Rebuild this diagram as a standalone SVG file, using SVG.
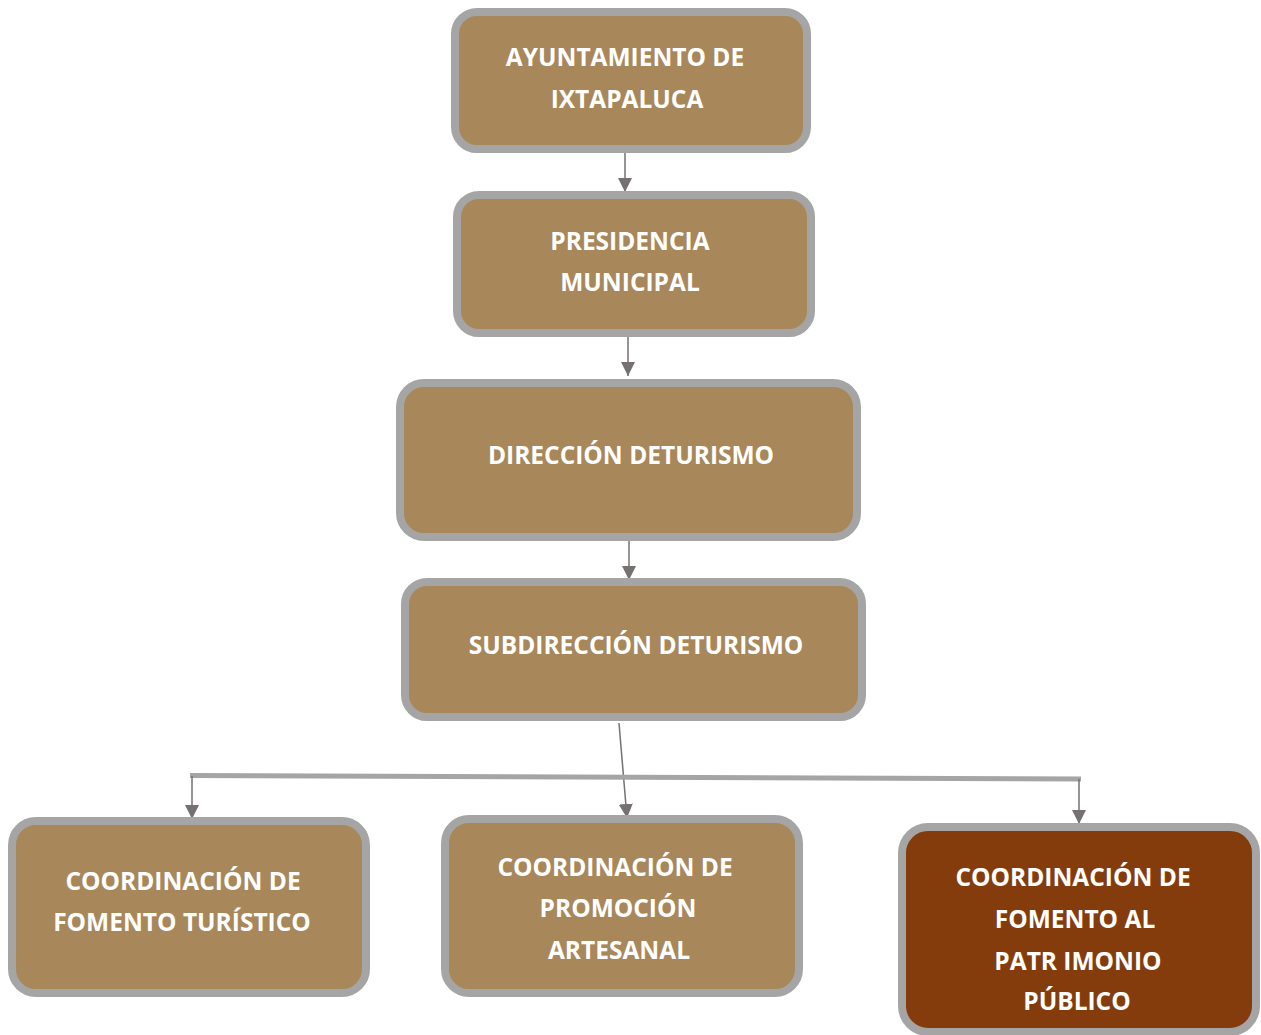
<svg xmlns="http://www.w3.org/2000/svg" width="1261" height="1035" viewBox="0 0 1261 1035">
<style>
.box{fill:#a8875a;stroke:#a5a5a5;stroke-width:8}
.dark{fill:#843c0c}
.t{font-family:"Open Sans","Noto Sans",sans-serif;font-weight:700;font-size:24.5px;fill:#ffffff;text-anchor:middle}
.c{stroke:#767171;stroke-width:1.5;fill:none}
.bar{stroke:#a5a5a5;stroke-width:5;fill:none}
</style>
<defs>
<marker id="ah" viewBox="0 0 10 10" refX="10" refY="5" markerWidth="14" markerHeight="14" markerUnits="userSpaceOnUse" orient="auto">
<path d="M0,0 L10,5 L0,10 Z" fill="#767171"/>
</marker>
</defs>
<rect width="1261" height="1035" fill="#ffffff"/>
<g id="connectors">
<line class="c" x1="625" y1="153" x2="625" y2="192" marker-end="url(#ah)"/>
<line class="c" x1="628" y1="337" x2="628" y2="376" marker-end="url(#ah)"/>
<line class="c" x1="629" y1="541" x2="629" y2="580" marker-end="url(#ah)"/>
<line class="c" x1="619" y1="723" x2="627" y2="818" marker-end="url(#ah)"/>
<line class="bar" x1="190" y1="775.5" x2="1081" y2="779"/>
<line class="c" x1="192" y1="776" x2="192" y2="819" marker-end="url(#ah)"/>
<line class="c" x1="1079" y1="779" x2="1079" y2="824" marker-end="url(#ah)"/>
</g>
<g id="n1">
<rect class="box" x="455" y="12" width="352" height="137" rx="22"/>
<text class="t" x="625" y="66">AYUNTAMIENTO DE</text>
<text class="t" x="627" y="108">IXTAPALUCA</text>
</g>
<g id="n2">
<rect class="box" x="457" y="195" width="354" height="138" rx="22"/>
<text class="t" x="630" y="250">PRESIDENCIA</text>
<text class="t" x="630" y="291">MUNICIPAL</text>
</g>
<g id="n3">
<rect class="box" x="400" y="383" width="457" height="154" rx="24"/>
<text class="t" x="631" y="464">DIRECCIÓN DETURISMO</text>
</g>
<g id="n4">
<rect class="box" x="405" y="582" width="457" height="135" rx="22"/>
<text class="t" x="636" y="654">SUBDIRECCIÓN DETURISMO</text>
</g>
<g id="n5">
<rect class="box" x="12" y="821" width="354" height="172" rx="24"/>
<text class="t" x="183" y="890">COORDINACIÓN DE</text>
<text class="t" x="182" y="931">FOMENTO TURÍSTICO</text>
</g>
<g id="n6">
<rect class="box" x="445" y="819" width="354" height="174" rx="24"/>
<text class="t" x="615" y="876">COORDINACIÓN DE</text>
<text class="t" x="618" y="917">PROMOCIÓN</text>
<text class="t" x="619" y="959">ARTESANAL</text>
</g>
<g id="n7">
<rect class="box dark" x="902" y="827" width="354" height="205" rx="26"/>
<text class="t" x="1073" y="886">COORDINACIÓN DE</text>
<text class="t" x="1075" y="928">FOMENTO AL</text>
<text class="t" x="1078" y="970">PATR IMONIO</text>
<text class="t" x="1077" y="1010">PÚBLICO</text>
</g>
</svg>
